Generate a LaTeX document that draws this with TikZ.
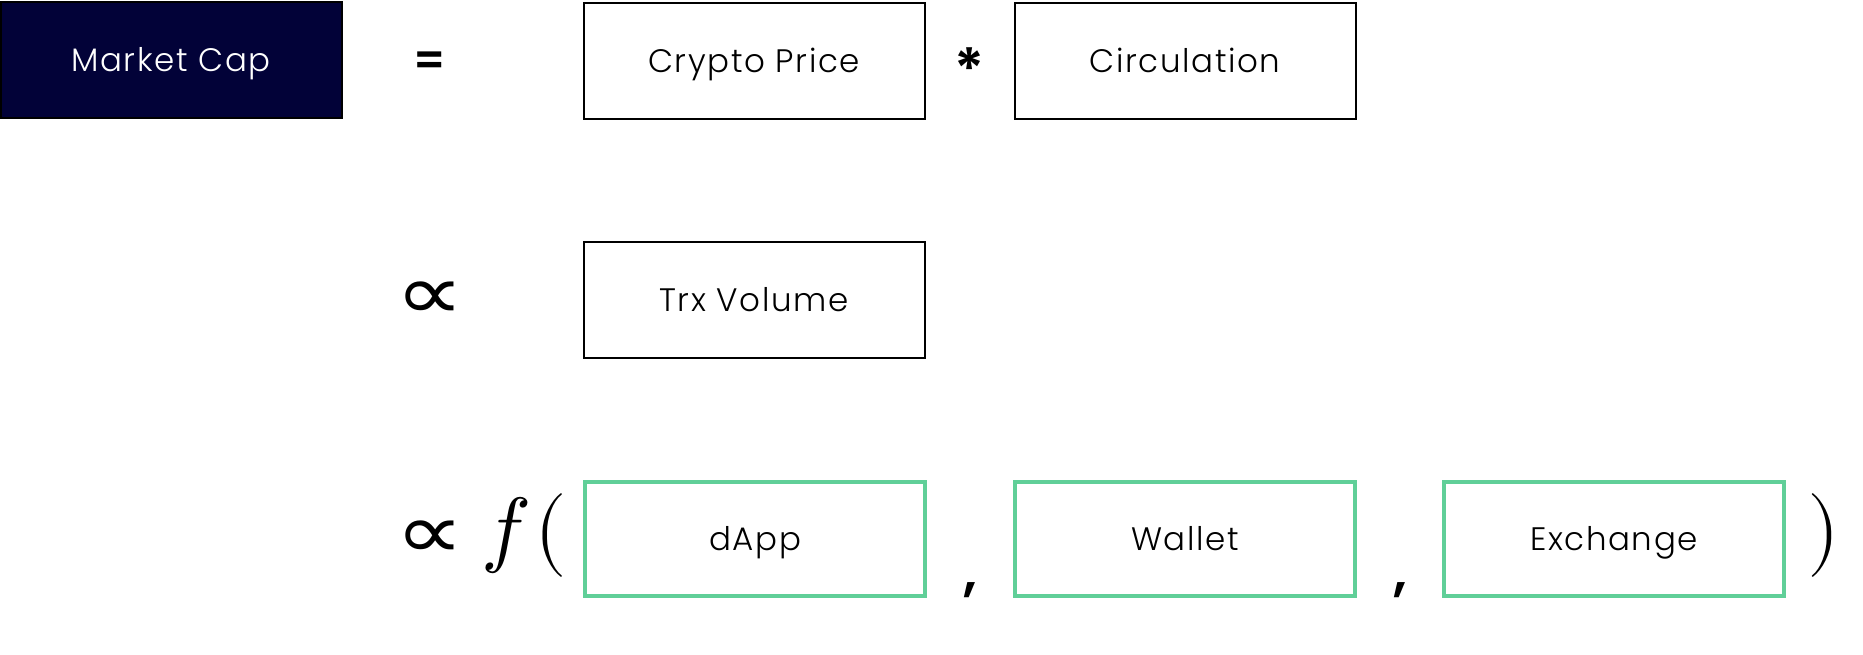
\documentclass[tikz,border=0pt]{standalone}
\usepackage{fontspec}
\usepackage{unicode-math}
\setmathfont{Latin Modern Math}
\setmainfont{Poppins}[UprightFont=* Light, BoldFont=* SemiBold]
\newfontfamily\opfontfam{Poppins}[UprightFont=* SemiBold]
\newfontfamily\symfam{DejaVu Sans}
\definecolor{navy}{RGB}{2,2,56}
\definecolor{boxgreen}{RGB}{96,207,152}
\newcommand{\boxfont}{\fontsize{32.5}{38}\selectfont\addfontfeatures{LetterSpace=5}}
\newcommand{\opfont}{\opfontfam\fontsize{44}{50}\selectfont}
\newcommand{\mathbig}{\fontsize{84}{90}\selectfont}
\newcommand{\propfont}{\symfam\fontsize{86}{90}\selectfont}
\newcommand{\propsym}{\scalebox{1.12}[0.9]{∝}}
\begin{document}
\begin{tikzpicture}[x=1pt,y=-1pt,
  box/.style={draw=black, line width=2pt, minimum width=341pt, minimum height=116pt, inner sep=0pt, text height=22.5pt, text depth=0pt, font=\boxfont},
  gbox/.style={box, draw=boxgreen, line width=4.5pt, minimum width=340pt, minimum height=114pt},
  op/.style={inner sep=0pt, font=\opfont},
  mth/.style={inner sep=0pt}
]
\useasboundingbox (0,0) rectangle (1863,655);
% row 1
\node[box, fill=navy, text=white] (mc) at (171,60.5) {Market Cap};
\node[op] (eq) at (430,64) {=};
\node[box] (cp) at (754,61) {Crypto Price};
\node[op, font=\opfontfam\fontsize{58}{60}\selectfont] (mul) at (970,69) {*};
\node[box] (ci) at (1185,61) {Circulation};
% row 2
\node[mth, font=\propfont] (pr2) at (430,301) {\propsym};
\node[box] (trx) at (754,300) {Trx Volume};
% row 3
\node[mth, font=\propfont] (pr3) at (430,540) {\propsym};
\node[mth] (f) at (506,535) {\mathbig$f$};
\node[mth] (lp) at (551,535) {\mathbig$($};
\node[gbox] (dapp) at (755,539) {dApp};
\node[op, font=\opfontfam\fontsize{54}{60}\selectfont] (c1) at (970,590) {,};
\node[gbox] (wallet) at (1185,539) {Wallet};
\node[op, font=\opfontfam\fontsize{54}{60}\selectfont] (c2) at (1400,590) {,};
\node[gbox] (exch) at (1614,539) {Exchange};
\node[mth] (rp) at (1824,535) {\mathbig$)$};
\end{tikzpicture}
\end{document}
